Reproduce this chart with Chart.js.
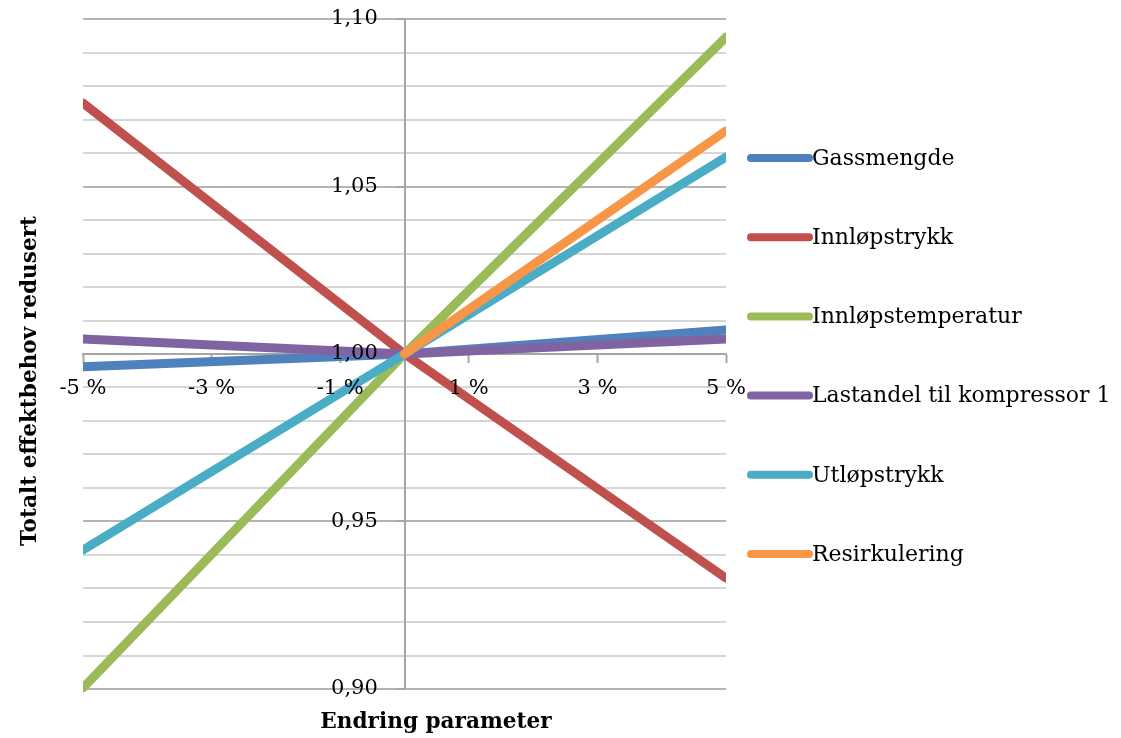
<!DOCTYPE html>
<html>
<head>
<meta charset="utf-8">
<script src="https://cdn.jsdelivr.net/npm/chart.js@4/dist/chart.umd.min.js"></script>
<style>
  html, body { margin: 0; padding: 0; background: #ffffff; }
  #wrap { width: 1121px; height: 738px; }
</style>
</head>
<body>
<div id="wrap"><canvas id="chart" width="1121" height="738"></canvas></div>
<script>
// Change in parameter (%) where each series is sampled
const changePct = [-5, 0, 5];

// Total reduced power demand relative to base case
const gassmengde        = [0.9962, 1.0000, 1.0072];
const innlopstrykk      = [1.0749, 1.0000, 0.9331];
const innlopstemperatur = [0.9003, 1.0000, 1.0946];
const lastandel         = [1.0045, 1.0000, 1.0045];
const utlopstrykk       = [0.9415, 1.0000, 1.0588];
const resirkulering     = [null,   1.0000, 1.0666];

const seriesNames = [
  'Gassmengde', 'Innløpstrykk', 'Innløpstemperatur',
  'Lastandel til kompressor 1', 'Utløpstrykk', 'Resirkulering'
];
const seriesValues = [gassmengde, innlopstrykk, innlopstemperatur, lastandel, utlopstrykk, resirkulering];
const seriesColors = ['#4F81BD', '#C0504D', '#9BBB59', '#8064A2', '#4BACC6', '#F79646'];

const xTickValues = [-5, -3, -1, 1, 3, 5];
const yMin = 0.90, yMax = 1.10, yStep = 0.01;

const FONT = '"DejaVu Serif", "Liberation Serif", serif';
const AXIS_GREY = '#A6A6A6';

function toPoints(values) {
  const pts = [];
  values.forEach((v, i) => { if (v !== null) pts.push({ x: changePct[i], y: v }); });
  return pts;
}

const datasets = seriesNames.map((name, i) => ({
  label: name,
  data: toPoints(seriesValues[i]),
  borderColor: seriesColors[i],
  backgroundColor: seriesColors[i],
  borderWidth: 9,
  borderCapStyle: 'round',
  pointRadius: 0,
  tension: 0,
  order: seriesNames.length - i,
  clip: { left: 0, right: 0, top: 6, bottom: 6 }
}));

function isMajor(v) {
  return Math.round(v * 100) % 5 === 0;
}

// Legend on the right: thick rounded line sample followed by series name
const sideLegend = {
  id: 'sideLegend',
  afterDraw(chart) {
    const ctx = chart.ctx;
    const x0 = 751, x1 = 809, textX = 812;
    const yFirst = 158, gap = 79.2;
    ctx.save();
    ctx.font = '22px ' + FONT;
    ctx.textBaseline = 'middle';
    ctx.textAlign = 'left';
    chart.data.datasets.forEach((ds, i) => {
      const y = yFirst + i * gap;
      ctx.strokeStyle = ds.borderColor;
      ctx.lineWidth = 8;
      ctx.lineCap = 'round';
      ctx.beginPath();
      ctx.moveTo(x0, y);
      ctx.lineTo(x1, y);
      ctx.stroke();
      ctx.fillStyle = '#000000';
      ctx.fillText(ds.label, textX, y + 1);
    });
    ctx.restore();
  }
};

// Axis titles placed at the page edges
const axisTitles = {
  id: 'axisTitles',
  afterDraw(chart) {
    const ctx = chart.ctx;
    ctx.save();
    ctx.fillStyle = '#000000';
    ctx.font = 'bold 21.6px ' + FONT;
    ctx.textAlign = 'center';
    ctx.textBaseline = 'middle';
    ctx.fillText('Endring parameter', 436, 722);
    ctx.translate(30, 381);
    ctx.rotate(-Math.PI / 2);
    ctx.fillText('Totalt effektbehov redusert', 0, 0);
    ctx.restore();
  }
};

const xLabel = (v) => v + ' %';
// trailing spaces keep the right-aligned value labels clear of the vertical axis
const yLabel = (v) => isMajor(v) ? v.toFixed(2).replace('.', ',') + '    ' : '';

new Chart(document.getElementById('chart'), {
  type: 'line',
  data: { datasets },
  plugins: [sideLegend, axisTitles],
  options: {
    responsive: false,
    animation: false,
    layout: { padding: { left: 83, right: 395, top: 19, bottom: 49 } },
    plugins: {
      legend: { display: false },
      tooltip: { enabled: false }
    },
    scales: {
      x: {
        type: 'linear',
        position: { y: 1.0 },
        min: -5,
        max: 5,
        afterBuildTicks(scale) {
          scale.ticks = xTickValues.map(v => ({ value: v }));
        },
        ticks: {
          z: 1,
          autoSkip: false,
          maxRotation: 0,
          padding: 14,
          color: '#000000',
          font: { family: FONT, size: 21 },
          callback: xLabel
        },
        grid: {
          drawOnChartArea: false,
          drawTicks: true,
          tickLength: 8,
          tickWidth: 2,
          tickColor: AXIS_GREY
        },
        border: { color: AXIS_GREY, width: 2 }
      },
      y: {
        type: 'linear',
        position: { x: 0 },
        min: yMin,
        max: yMax,
        ticks: {
          z: 1,
          stepSize: yStep,
          autoSkip: false,
          color: '#000000',
          font: { family: FONT, size: 21 },
          callback: yLabel
        },
        grid: {
          color: (c) => isMajor(c.tick.value) ? '#B4B4B4' : '#D6D6D6',
          lineWidth: 2,
          drawTicks: true,
          tickLength: 7,
          tickWidth: 2,
          tickColor: (c) => isMajor(c.tick.value) ? AXIS_GREY : 'rgba(0,0,0,0)'
        },
        border: { color: AXIS_GREY, width: 2 }
      }
    }
  }
});
</script>
</body>
</html>
